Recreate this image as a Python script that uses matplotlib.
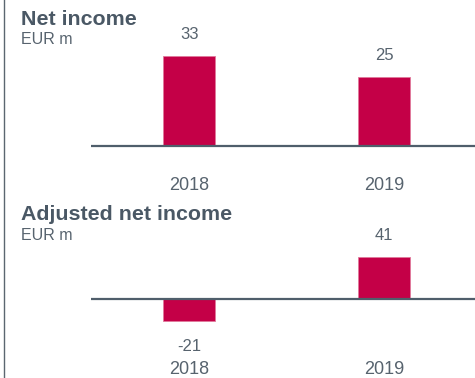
import matplotlib
matplotlib.use("Agg")
import matplotlib.pyplot as plt
from matplotlib.lines import Line2D
import matplotlib.transforms as mtransforms

# Data
years = ["2018", "2019"]
net_income = [33, 25]
adjusted_net_income = [-21, 41]

panel_titles = ["Net income", "Adjusted net income"]
unit_label = "EUR m"

# Styling
BAR_COLOR = "#c40047"
LINE_COLOR = "#4f5e6b"
TEXT_COLOR = "#57636e"
TITLE_COLOR = "#4a5865"
FONT = ["Liberation Sans", "DejaVu Sans"]

W, H = 475, 378
DPI = 100
fig = plt.figure(figsize=(W / DPI, H / DPI), dpi=DPI)
fig.patch.set_facecolor("white")

# Panel geometry in pixels: (top, bottom, zero-line y, px per unit, year label y, title baseline, unit baseline)
panels = [
    dict(values=net_income, top=0, bottom=190, zero=145.7, scale=2.73,
         year_y=185, title_y=25, unit_y=44.5),
    dict(values=adjusted_net_income, top=190, bottom=378, zero=299.3, scale=1.03,
         year_y=369.5, title_y=220, unit_y=240.5),
]

left_px, right_px = 91, 475
x_center0, x_step = 189.3, 195.0
bar_w_px = 52

xs = list(range(len(years)))
x_lo = -(x_center0 - left_px) / x_step
x_hi = (right_px - x_center0) / x_step
bar_width = bar_w_px / x_step

for p, title in zip(panels, panel_titles):
    ax = fig.add_axes([left_px / W, 1 - p["bottom"] / H,
                       (right_px - left_px) / W, (p["bottom"] - p["top"]) / H])
    ax.set_xlim(x_lo, x_hi)
    ax.set_ylim(-(p["bottom"] - p["zero"]) / p["scale"],
                (p["zero"] - p["top"]) / p["scale"])
    ax.axis("off")

    ax.bar(xs, p["values"], width=bar_width, color=BAR_COLOR,
           edgecolor="#e07a9c", linewidth=0.6, zorder=2)
    ax.axhline(0, color=LINE_COLOR, lw=1.6, zorder=3)

    for x, v in zip(xs, p["values"]):
        off = 15.5 if v >= 0 else -18.5
        ax.annotate(f"{v}", xy=(x, v), xytext=(0, off), textcoords="offset points",
                    ha="center", va="center", fontsize=12, color=TEXT_COLOR,
                    family=FONT)

    trans = mtransforms.blended_transform_factory(ax.transData, fig.transFigure)
    for x, yr in zip(xs, years):
        ax.text(x, 1 - p["year_y"] / H, yr, transform=trans, ha="center",
                va="center", fontsize=13, color=TEXT_COLOR, family=FONT)

    fig.text(21 / W, 1 - p["title_y"] / H, title, ha="left", va="baseline",
             fontsize=15.4, fontweight="bold", color=TITLE_COLOR, family=FONT)
    fig.text(21 / W, 1 - p["unit_y"] / H, unit_label, ha="left", va="baseline",
             fontsize=11.5, color=TEXT_COLOR, family=FONT)

# Thin rule along the left edge
fig.add_artist(Line2D([3.5 / W, 3.5 / W], [0, 1], transform=fig.transFigure,
                      color="#5b6670", lw=1.0))

fig.savefig("out.png", dpi=DPI)
